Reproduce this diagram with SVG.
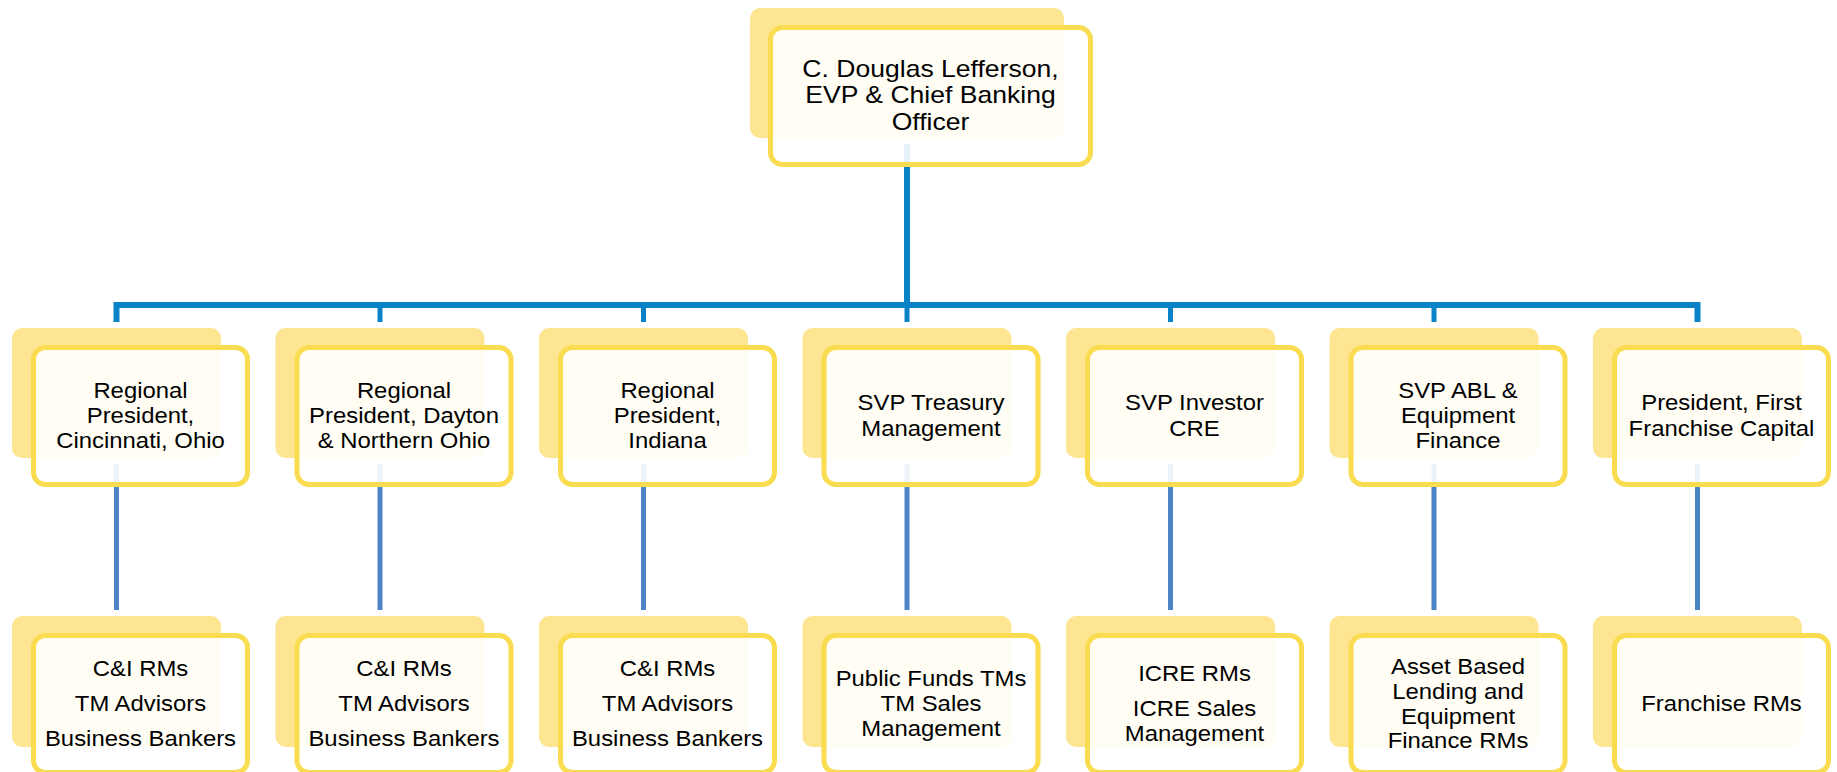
<svg xmlns="http://www.w3.org/2000/svg" width="1837" height="772" viewBox="0 0 1837 772">
<style>
.back{fill:#FDE592;}
.front{fill:#FFFFFF;fill-opacity:0.9;stroke:#F9DC4F;stroke-width:5;}
.t{font-family:"Liberation Sans",Arial,sans-serif;font-size:22px;fill:#000;text-anchor:middle;}
.tt{font-family:"Liberation Sans",Arial,sans-serif;font-size:23px;fill:#000;text-anchor:middle;}
.c1{stroke:#0A83C6;fill:none;stroke-width:6;}
.c1d{stroke:#0A83C6;fill:none;stroke-width:5;}
.c2{stroke:#4A84C5;fill:none;stroke-width:5;}
</style>
<rect width="1837" height="772" fill="#FFFFFF"/>
<g id="connectors">
<path class="c1" d="M907,144 V305"/>
<path class="c1" d="M116.5,322 V305 H1697.5 V322" stroke-linejoin="miter"/>
<path class="c1d" d="M380,305 V322 M643.5,305 V322 M907,305 V322 M1170.5,305 V322 M1434,305 V322"/>
<path class="c2" d="M116.5,464 V610 M380,464 V610 M643.5,464 V610 M907,464 V610 M1170.5,464 V610 M1434,464 V610 M1697.5,464 V610"/>
</g>
<g id="n0">
<rect class="back" x="750" y="8" width="314" height="130" rx="10"/>
<rect class="front" x="770.5" y="27.5" width="320" height="137" rx="12"/>
<text class="tt" transform="translate(930.5 0) scale(1.155 1)"><tspan x="0" y="77">C. Douglas Lefferson,</tspan><tspan x="0" y="103.5">EVP &amp; Chief Banking</tspan><tspan x="0" y="130">Officer</tspan></text>
</g>
<g id="n1">
<rect class="back" x="12" y="328" width="209" height="130" rx="10"/>
<rect class="front" x="33.5" y="347.5" width="214" height="137" rx="12"/>
<text class="t" transform="translate(140.5 0) scale(1.086 1)"><tspan x="0" y="398">Regional</tspan><tspan x="0" y="423">President,</tspan><tspan x="0" y="448">Cincinnati, Ohio</tspan></text>
</g>
<g id="n2">
<rect class="back" x="275.5" y="328" width="209" height="130" rx="10"/>
<rect class="front" x="297" y="347.5" width="214" height="137" rx="12"/>
<text class="t" transform="translate(404 0) scale(1.086 1)"><tspan x="0" y="398">Regional</tspan><tspan x="0" y="423">President, Dayton</tspan><tspan x="0" y="448">&amp; Northern Ohio</tspan></text>
</g>
<g id="n3">
<rect class="back" x="539" y="328" width="209" height="130" rx="10"/>
<rect class="front" x="560.5" y="347.5" width="214" height="137" rx="12"/>
<text class="t" transform="translate(667.5 0) scale(1.086 1)"><tspan x="0" y="398">Regional</tspan><tspan x="0" y="423">President,</tspan><tspan x="0" y="448">Indiana</tspan></text>
</g>
<g id="n4">
<rect class="back" x="802.5" y="328" width="209" height="130" rx="10"/>
<rect class="front" x="824" y="347.5" width="214" height="137" rx="12"/>
<text class="t" transform="translate(931 0) scale(1.086 1)"><tspan x="0" y="410">SVP Treasury</tspan><tspan x="0" y="436">Management</tspan></text>
</g>
<g id="n5">
<rect class="back" x="1066" y="328" width="209" height="130" rx="10"/>
<rect class="front" x="1087.5" y="347.5" width="214" height="137" rx="12"/>
<text class="t" transform="translate(1194.5 0) scale(1.086 1)"><tspan x="0" y="410">SVP Investor</tspan><tspan x="0" y="436">CRE</tspan></text>
</g>
<g id="n6">
<rect class="back" x="1329.5" y="328" width="209" height="130" rx="10"/>
<rect class="front" x="1351" y="347.5" width="214" height="137" rx="12"/>
<text class="t" transform="translate(1458 0) scale(1.086 1)"><tspan x="0" y="398">SVP ABL &amp;</tspan><tspan x="0" y="423">Equipment</tspan><tspan x="0" y="448">Finance</tspan></text>
</g>
<g id="n7">
<rect class="back" x="1593" y="328" width="209" height="130" rx="10"/>
<rect class="front" x="1614.5" y="347.5" width="214" height="137" rx="12"/>
<text class="t" transform="translate(1721.5 0) scale(1.086 1)"><tspan x="0" y="410">President, First</tspan><tspan x="0" y="436">Franchise Capital</tspan></text>
</g>
<g id="n8">
<rect class="back" x="12" y="616" width="209" height="131" rx="10"/>
<rect class="front" x="33.5" y="635.5" width="214" height="137" rx="12"/>
<text class="t" transform="translate(140.5 0) scale(1.086 1)"><tspan x="0" y="676">C&amp;I RMs</tspan><tspan x="0" y="711">TM Advisors</tspan><tspan x="0" y="746">Business Bankers</tspan></text>
</g>
<g id="n9">
<rect class="back" x="275.5" y="616" width="209" height="131" rx="10"/>
<rect class="front" x="297" y="635.5" width="214" height="137" rx="12"/>
<text class="t" transform="translate(404 0) scale(1.086 1)"><tspan x="0" y="676">C&amp;I RMs</tspan><tspan x="0" y="711">TM Advisors</tspan><tspan x="0" y="746">Business Bankers</tspan></text>
</g>
<g id="n10">
<rect class="back" x="539" y="616" width="209" height="131" rx="10"/>
<rect class="front" x="560.5" y="635.5" width="214" height="137" rx="12"/>
<text class="t" transform="translate(667.5 0) scale(1.086 1)"><tspan x="0" y="676">C&amp;I RMs</tspan><tspan x="0" y="711">TM Advisors</tspan><tspan x="0" y="746">Business Bankers</tspan></text>
</g>
<g id="n11">
<rect class="back" x="802.5" y="616" width="209" height="131" rx="10"/>
<rect class="front" x="824" y="635.5" width="214" height="137" rx="12"/>
<text class="t" transform="translate(931 0) scale(1.086 1)"><tspan x="0" y="686">Public Funds TMs</tspan><tspan x="0" y="711">TM Sales</tspan><tspan x="0" y="736">Management</tspan></text>
</g>
<g id="n12">
<rect class="back" x="1066" y="616" width="209" height="131" rx="10"/>
<rect class="front" x="1087.5" y="635.5" width="214" height="137" rx="12"/>
<text class="t" transform="translate(1194.5 0) scale(1.086 1)"><tspan x="0" y="681">ICRE RMs</tspan><tspan x="0" y="716">ICRE Sales</tspan><tspan x="0" y="741">Management</tspan></text>
</g>
<g id="n13">
<rect class="back" x="1329.5" y="616" width="209" height="131" rx="10"/>
<rect class="front" x="1351" y="635.5" width="214" height="137" rx="12"/>
<text class="t" transform="translate(1458 0) scale(1.086 1)"><tspan x="0" y="674">Asset Based</tspan><tspan x="0" y="699">Lending and</tspan><tspan x="0" y="724">Equipment</tspan><tspan x="0" y="748">Finance RMs</tspan></text>
</g>
<g id="n14">
<rect class="back" x="1593" y="616" width="209" height="131" rx="10"/>
<rect class="front" x="1614.5" y="635.5" width="214" height="137" rx="12"/>
<text class="t" transform="translate(1721.5 0) scale(1.086 1)"><tspan x="0" y="711">Franchise RMs</tspan></text>
</g>
</svg>
